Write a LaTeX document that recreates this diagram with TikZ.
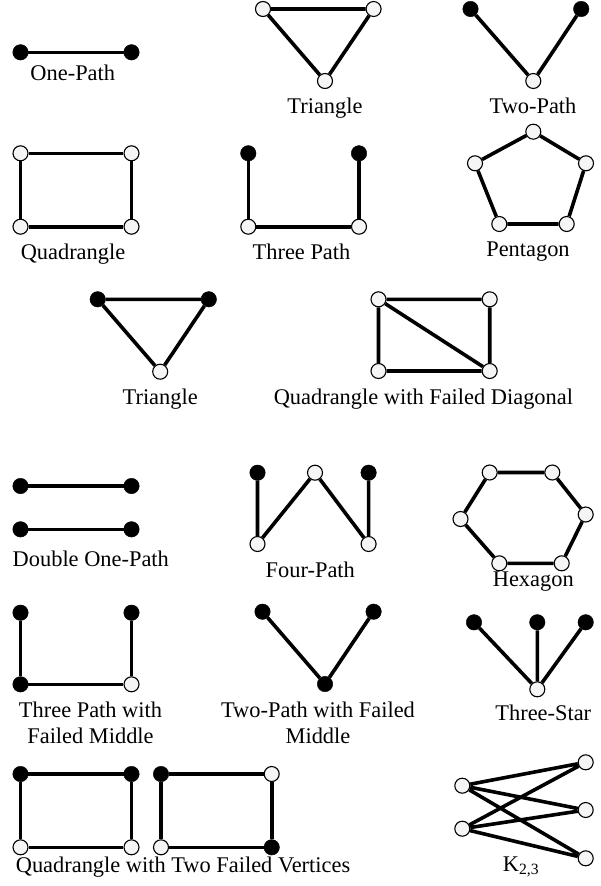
\documentclass[tikz,border=0pt]{standalone}
\usepackage{fontspec}
\setmainfont{Liberation Serif}
\begin{document}
\begin{tikzpicture}[x=1pt,y=-1pt,
 wv/.style={circle,draw=black,line width=1.1pt,fill=white!96!black,inner sep=0pt,minimum size=15pt},
 bv/.style={circle,draw=black,fill=black,inner sep=0pt,minimum size=15.5pt},
 ed/.style={line width=3.6pt},
 lbl/.style={font=\fontsize{22.4}{26.5}\selectfont,inner sep=0pt,anchor=base},
 lbl2/.style={font=\fontsize{22.4}{26.5}\selectfont,inner sep=0pt,anchor=center,align=center}]
\useasboundingbox (0,0) rectangle (600,886);
\fill[white] (0,0) rectangle (600,886);
% One-Path
\node[bv] (a1) at (20.5,52.3) {};
\node[bv] (a2) at (131.5,52.3) {};
\draw[ed] (a1) -- (a2);
\node[lbl] (la) at (72.8,80) {One-Path};
% Triangle
\node[wv] (t1) at (263,9) {};
\node[wv] (t2) at (373.6,9) {};
\node[wv] (t3) at (325,81) {};
\draw[ed] (t1) -- (t2) (t2) -- (t3) (t3) -- (t1);
\node[lbl] (lt) at (325,113.5) {Triangle};
% Two-Path
\node[bv] (p1) at (470.5,9) {};
\node[bv] (p2) at (581.2,9) {};
\node[wv] (p3) at (533.3,81) {};
\draw[ed] (p1) -- (p3) (p3) -- (p2);
\node[lbl] (lp) at (533,113.5) {Two-Path};
% Quadrangle
\node[wv] (q1) at (20.5,153.3) {};
\node[wv] (q2) at (131.5,153.3) {};
\node[wv] (q3) at (20.5,226.7) {};
\node[wv] (q4) at (131.5,226.7) {};
\draw[ed] (q1) -- (q2) (q2) -- (q4) (q4) -- (q3) (q3) -- (q1);
\node[lbl] (lq) at (73,259) {Quadrangle};
% Three Path
\node[bv] (r1) at (248.3,153.3) {};
\node[bv] (r2) at (359,153.3) {};
\node[wv] (r3) at (248.3,226.7) {};
\node[wv] (r4) at (359,226.7) {};
\draw[ed] (r1) -- (r3) (r3) -- (r4) (r4) -- (r2);
\node[lbl] (lr) at (301.5,259) {Three Path};
% Pentagon
\node[wv] (n1) at (533.3,131.7) {};
\node[wv] (n2) at (586,163.3) {};
\node[wv] (n3) at (566.7,224) {};
\node[wv] (n4) at (499.3,224) {};
\node[wv] (n5) at (475,163.3) {};
\draw[ed] (n1) -- (n2) (n2) -- (n3) (n3) -- (n4) (n4) -- (n5) (n5) -- (n1);
\node[lbl] (ln) at (528,256.5) {Pentagon};
% Triangle 2
\node[bv] (s1) at (97.7,299.3) {};
\node[bv] (s2) at (208.8,299.3) {};
\node[wv] (s3) at (160.2,371.7) {};
\draw[ed] (s1) -- (s2) (s2) -- (s3) (s3) -- (s1);
\node[lbl] (ls) at (160.2,404) {Triangle};
% Quadrangle with Failed Diagonal
\node[wv] (d1) at (378.5,299.3) {};
\node[wv] (d2) at (489.7,299.3) {};
\node[wv] (d3) at (378.5,371) {};
\node[wv] (d4) at (489.7,371) {};
\draw[ed] (d1) -- (d2) (d2) -- (d4) (d4) -- (d3) (d3) -- (d1) (d1) -- (d4);
\node[lbl] (ld) at (423.4,404) {Quadrangle with Failed Diagonal};
% Double One-Path
\node[bv] (e1) at (20.5,486) {};
\node[bv] (e2) at (131.5,486) {};
\node[bv] (e3) at (20.5,529.3) {};
\node[bv] (e4) at (131.5,529.3) {};
\draw[ed] (e1) -- (e2) (e3) -- (e4);
\node[lbl] (le) at (90.8,566.5) {Double One-Path};
% Four-Path
\node[bv] (f1) at (257.5,472.7) {};
\node[wv] (f2) at (315,472.7) {};
\node[bv] (f3) at (368.6,472.7) {};
\node[wv] (f4) at (257.5,544) {};
\node[wv] (f5) at (368.6,544) {};
\draw[ed] (f1) -- (f4) (f4) -- (f2) (f2) -- (f5) (f5) -- (f3);
\node[lbl] (lf) at (310.3,577) {Four-Path};
% Hexagon
\node[wv] (h1) at (489.7,472.5) {};
\node[wv] (h2) at (552.3,472.5) {};
\node[wv] (h3) at (585.7,514.5) {};
\node[wv] (h4) at (561.7,563.3) {};
\node[wv] (h5) at (499.3,563.3) {};
\node[wv] (h6) at (460.5,519) {};
\draw[ed] (h1) -- (h2) (h2) -- (h3) (h3) -- (h4) (h4) -- (h5) (h5) -- (h6) (h6) -- (h1);
\node[lbl] (lh) at (533.3,586.5) {Hexagon};
% Three Path with Failed Middle
\node[bv] (m1) at (20.5,612.7) {};
\node[bv] (m2) at (131.5,612.7) {};
\node[bv] (m3) at (20.5,684.3) {};
\node[wv] (m4) at (131.5,684.3) {};
\draw[ed] (m1) -- (m3) (m3) -- (m4) (m4) -- (m2);
\node[lbl2] (lm) at (90.5,722.6) {Three Path with\\Failed Middle};
% Two-Path with Failed Middle
\node[bv] (w1) at (262.5,611.7) {};
\node[bv] (w2) at (373.6,611.7) {};
\node[bv] (w3) at (325,684) {};
\draw[ed] (w1) -- (w3) (w3) -- (w2);
\node[lbl2] (lw) at (318,722.6) {Two-Path with Failed\\Middle};
% Three-Star
\node[bv] (x1) at (474,622.3) {};
\node[bv] (x2) at (537.3,622.3) {};
\node[bv] (x3) at (585.7,622.3) {};
\node[wv] (x4) at (537.3,689.3) {};
\draw[ed] (x1) -- (x4) (x2) -- (x4) (x3) -- (x4);
\node[lbl] (lx) at (543.3,720.5) {Three-Star};
% Quadrangle with Two Failed Vertices
\node[bv] (g1) at (20.5,774) {};
\node[bv] (g2) at (131.5,774) {};
\node[wv] (g3) at (20.5,847.3) {};
\node[wv] (g4) at (131.5,847.3) {};
\draw[ed] (g1) -- (g2) (g2) -- (g4) (g4) -- (g3) (g3) -- (g1);
\node[bv] (g5) at (161,774) {};
\node[wv] (g6) at (271.7,774) {};
\node[wv] (g7) at (161,847.3) {};
\node[bv] (g8) at (271.7,847.3) {};
\draw[ed] (g5) -- (g6) (g6) -- (g8) (g8) -- (g7) (g7) -- (g5);
\node[lbl] (lg) at (183,872) {Quadrangle with Two Failed Vertices};
% K_{2,3}
\node[wv] (k1) at (462.3,785.7) {};
\node[wv] (k2) at (462.3,828.7) {};
\node[wv] (k3) at (585.7,762.3) {};
\node[wv] (k4) at (585.7,810) {};
\node[wv] (k5) at (585.7,858.3) {};
\draw[ed] (k1) -- (k3) (k1) -- (k4) (k1) -- (k5) (k2) -- (k3) (k2) -- (k4) (k2) -- (k5);
\node[lbl] (lk) at (521,871) {K\textsubscript{2,3}};
\end{tikzpicture}
\end{document}
